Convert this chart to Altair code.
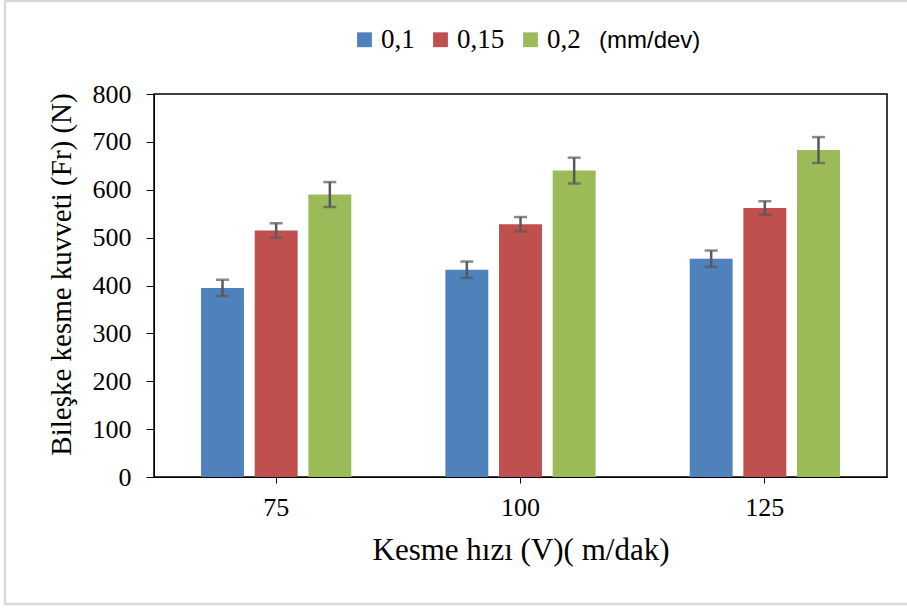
import altair as alt
import pandas as pd

speeds = ["75", "100", "125"]
feeds = ["0,1", "0,15", "0,2"]
vals_01 = [395, 433, 456]
vals_015 = [515, 528, 562]
vals_02 = [590, 640, 683]
err_01 = [17, 17, 17]
err_015 = [15, 15, 14]
err_02 = [26, 27, 27]
colors = ["#4F81BD", "#C0504D", "#9BBB59"]

series_vals = [vals_01, vals_015, vals_02]
series_errs = [err_01, err_015, err_02]
rows = []
for i, s in enumerate(speeds):
    for j, f in enumerate(feeds):
        v = series_vals[j][i]
        e = series_errs[j][i]
        rows.append({"speed": s, "feed": f, "val": v, "lo": v - e, "hi": v + e})
df = pd.DataFrame(rows)

SERIF = "Liberation Serif"

base = alt.Chart(df).encode(
    x=alt.X(
        "speed:N",
        sort=speeds,
        scale=alt.Scale(paddingInner=0.385, paddingOuter=0.1925),
        axis=alt.Axis(
            title="Kesme hızı (V)( m/dak)",
            labelAngle=0,
            labelFont=SERIF,
            labelFontSize=26,
            labelColor="black",
            labelPadding=11,
            tickSize=6,
            tickColor="black",
            domainColor="black",
            titleFont=SERIF,
            titleFontSize=31,
            titleFontWeight="normal",
            titleColor="black",
            titlePadding=15,
        ),
    ),
    xOffset=alt.XOffset(
        "feed:N", sort=feeds, scale=alt.Scale(paddingInner=0.2, paddingOuter=0)
    ),
)

bars = base.mark_bar().encode(
    y=alt.Y(
        "val:Q",
        scale=alt.Scale(domain=[0, 800]),
        axis=alt.Axis(
            title="Bileşke kesme kuvveti (Fr) (N)",
            values=[0, 100, 200, 300, 400, 500, 600, 700, 800],
            grid=False,
            labelFont=SERIF,
            labelFontSize=26,
            labelColor="black",
            labelPadding=15,
            tickSize=8,
            tickColor="black",
            domainColor="black",
            titleFont=SERIF,
            titleFontSize=29,
            titleFontWeight="normal",
            titleColor="black",
            titlePadding=16,
            titleY=180,
        ),
    ),
    color=alt.Color(
        "feed:N",
        sort=feeds,
        scale=alt.Scale(domain=feeds, range=colors),
        legend=alt.Legend(
            title=None,
            orient="none",
            direction="horizontal",
            legendX=197,
            legendY=-68,
            symbolType="square",
            symbolSize=220,
            symbolStrokeWidth=0,
            labelFont=SERIF,
            labelFontSize=27,
            labelColor="black",
            labelOffset=3,
            columnPadding=12,
        ),
    ),
)

err_rule = base.mark_rule(color="#595959", strokeWidth=2.5).encode(
    y="lo:Q", y2="hi:Q"
)
cap_hi = base.mark_tick(color="#595959", thickness=2.5, size=13).encode(y="hi:Q")
cap_lo = base.mark_tick(color="#595959", thickness=2.5, size=13).encode(y="lo:Q")

unit_txt = alt.Chart(pd.DataFrame({"t": ["(mm/dev)"]})).mark_text(
    font="Liberation Sans", fontSize=24, align="left", baseline="middle", color="black"
).encode(x=alt.value(445), y=alt.value(-53), text="t:N")

frame = alt.Chart(pd.DataFrame({"a": [0]})).mark_rect(
    fill=None, stroke="#d9d9d9", strokeWidth=2.5
).encode(x=alt.value(-149), x2=alt.value(770), y=alt.value(-93), y2=alt.value(510))

chart = (
    alt.layer(frame, bars, err_rule, cap_hi, cap_lo, unit_txt)
    .properties(
        width=733,
        height=383,
        autosize=alt.AutoSizeParams(type="none"),
        padding={"left": 154, "top": 94, "right": 20, "bottom": 131},
        background="white",
    )
    .configure_view(stroke="black", strokeWidth=1.5)
)

chart.save("out.html", embed_options={"renderer": "svg", "actions": False})
